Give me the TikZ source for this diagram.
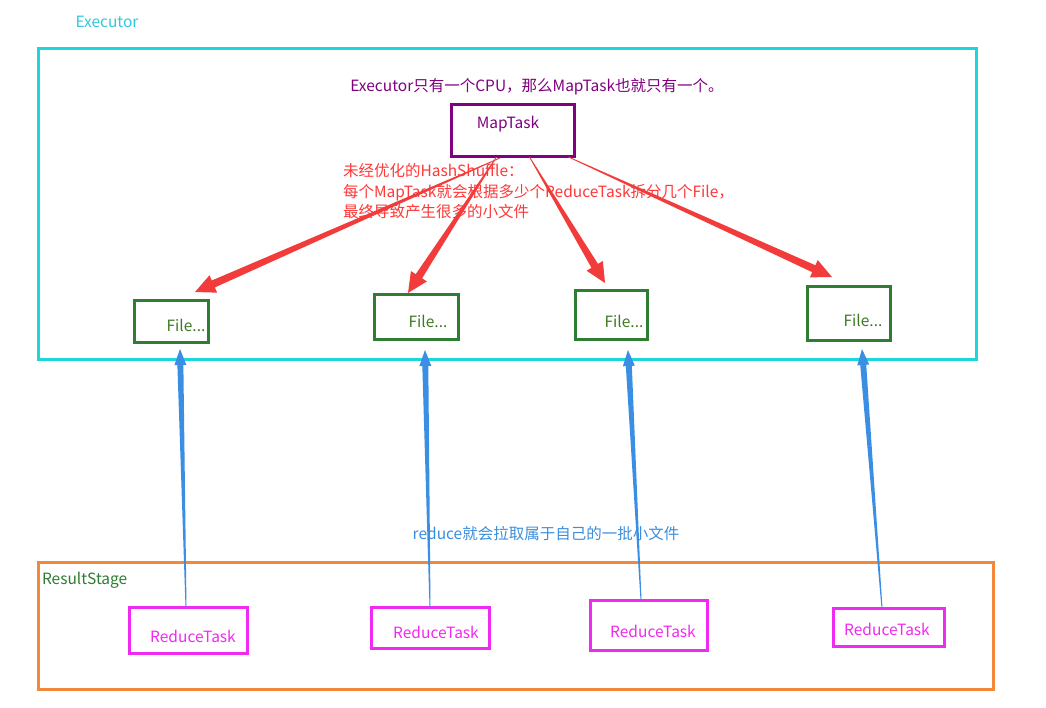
\documentclass[tikz,border=0pt]{standalone}
\usepackage{fontspec}
\setmainfont{Noto Sans CJK SC}
\usetikzlibrary{calc}

\definecolor{execcyan}{HTML}{1ED6DA}
\definecolor{execlabel}{HTML}{33C8DC}
\definecolor{mappurple}{HTML}{800080}
\definecolor{filegreen}{HTML}{2E7D32}
\definecolor{filetext}{HTML}{3E7A22}
\definecolor{stageorange}{HTML}{F2893A}
\definecolor{reducemag}{HTML}{F02AF0}
\definecolor{shufred}{HTML}{F23C3C}
\definecolor{notered}{HTML}{FF3838}
\definecolor{pullblue}{HTML}{3A8FE4}
\definecolor{pulltext}{HTML}{3C8EDC}

% tapered arrow: thin tail, widening shaft, triangular head
% #1 tail, #2 tip, #3 style, #4 tail half-width, #5 shaft half-width at head,
% #6 head half-width, #7 head length
\newcommand\taperarrow[7]{%
  \coordinate (tah) at ($(#2)!#7!(#1)$);
  \fill[#3] ($(#1)!#4!90:(#2)$) -- ($(tah)!#5!-90:(#1)$) -- ($(tah)!#6!-90:(#1)$)
    -- (#2) -- ($(tah)!#6!90:(#1)$) -- ($(tah)!#5!90:(#1)$) -- ($(#1)!#4!-90:(#2)$) -- cycle;
}

\begin{document}
\begin{tikzpicture}[x=1pt,y=-1pt,
  every node/.style={inner sep=0pt,outer sep=0pt,font=\fontsize{15.5}{18}\selectfont},
  frame/.style={draw,line width=3pt,rectangle},
  execbox/.style={frame,draw=execcyan},
  mapbox/.style={frame,draw=mappurple},
  filebox/.style={frame,draw=filegreen},
  stagebox/.style={frame,draw=stageorange},
  reducebox/.style={frame,draw=reducemag},
  filelabel/.style={text=filetext},
  reducelabel/.style={text=reducemag},
  shuffle/.style={fill=shufred},
  pull/.style={fill=pullblue}
]
\useasboundingbox (0,0) rectangle (1046,707);
\fill[white] (0,0) rectangle (1046,707);

% executor frame
\node[execbox,minimum width=938pt,minimum height=311pt] (exec) at (507,203.5) {};
\node[text=execlabel] (execname) at (107,22) {Executor};
\node[text=mappurple] (cpunote) at (537,87) {Executor只有一个CPU，那么MapTask也就只有一个。};

% map task
\node[mapbox,minimum width=123pt,minimum height=52pt] (map) at (512.5,130) {};
\node[text=mappurple] (maptext) at (508,124) {MapTask};

% shuffle note
\node[text=notered,anchor=north west,align=left,font=\fontsize{15.5}{20.5}\selectfont]
  (hashnote) at (343,163.5) {未经优化的HashShuffle：\\每个MapTask就会根据多少个ReduceTask拆分几个File，\\最终导致产生很多的小文件};

% output files
\node[filebox,minimum width=74pt,minimum height=42pt] (f1) at (171,321) {};
\node[filebox,minimum width=84pt,minimum height=45pt] (f2) at (416,316.5) {};
\node[filebox,minimum width=72pt,minimum height=49pt] (f3) at (611,314.5) {};
\node[filebox,minimum width=83pt,minimum height=54pt] (f4) at (848.5,313) {};
\node[filelabel] (f1t) at (186,325) {File...};
\node[filelabel] (f2t) at (428,321) {File...};
\node[filelabel] (f3t) at (624,321) {File...};
\node[filelabel] (f4t) at (863,320) {File...};

% result stage
\node[stagebox,minimum width=955pt,minimum height=127pt] (stage) at (515.5,625.5) {};
\node[text=filegreen,anchor=west] (stagename) at (42,580) {ResultStage};
\node[reducebox,minimum width=118pt,minimum height=46pt] (r1) at (188,630) {};
\node[reducebox,minimum width=118pt,minimum height=41pt] (r2) at (430,627.5) {};
\node[reducebox,minimum width=117pt,minimum height=50pt] (r3) at (648.5,625) {};
\node[reducebox,minimum width=111pt,minimum height=38pt] (r4) at (888.5,627) {};
\node[reducelabel] (r1t) at (193,636) {ReduceTask};
\node[reducelabel] (r2t) at (436,632) {ReduceTask};
\node[reducelabel] (r3t) at (653,631) {ReduceTask};
\node[reducelabel] (r4t) at (887,629) {ReduceTask};

\node[text=pulltext] (pullnote) at (546,534) {reduce就会拉取属于自己的一批小文件};

% shuffle write arrows
\coordinate (m1) at ($(map.south)+(-12.5,2)$);
\coordinate (m2) at ($(map.south)+(-16,1)$);
\coordinate (m3) at ($(map.south)+(17,1)$);
\coordinate (m4) at ($(map.south)+(56,1)$);
\coordinate (t1) at ($(f1.north)+(24,-8)$);
\coordinate (t2) at ($(f2.north)+(-8,-1)$);
\coordinate (t3) at ($(f3.north)+(-6,-7)$);
\coordinate (t4) at ($(f4.north)+(-16.5,-9)$);
\taperarrow{m1}{t1}{shuffle}{0.4pt}{3.8pt}{9.5pt}{20pt}
\taperarrow{m2}{t2}{shuffle}{0.4pt}{3.8pt}{9.5pt}{20pt}
\taperarrow{m3}{t3}{shuffle}{0.4pt}{3.8pt}{9.5pt}{20pt}
\taperarrow{m4}{t4}{shuffle}{0.4pt}{3.8pt}{9.5pt}{20pt}

% reduce fetch arrows
\coordinate (b1) at ($(r1.north)+(-2,0)$);
\coordinate (b2) at ($(r2.north)+(0,0)$);
\coordinate (b3) at ($(r3.north)+(-7.5,0)$);
\coordinate (b4) at ($(r4.north)+(-6.5,0)$);
\coordinate (u1) at ($(f1.south)+(9,7)$);
\coordinate (u2) at ($(f2.south)+(9,11)$);
\coordinate (u3) at ($(f3.south)+(17,11)$);
\coordinate (u4) at ($(f4.south)+(13.5,9)$);
\taperarrow{b1}{u1}{pull}{0.5pt}{3pt}{6pt}{16pt}
\taperarrow{b2}{u2}{pull}{0.5pt}{3pt}{6pt}{16pt}
\taperarrow{b3}{u3}{pull}{0.5pt}{3pt}{6pt}{16pt}
\taperarrow{b4}{u4}{pull}{0.5pt}{3pt}{6pt}{16pt}
\end{tikzpicture}
\end{document}
